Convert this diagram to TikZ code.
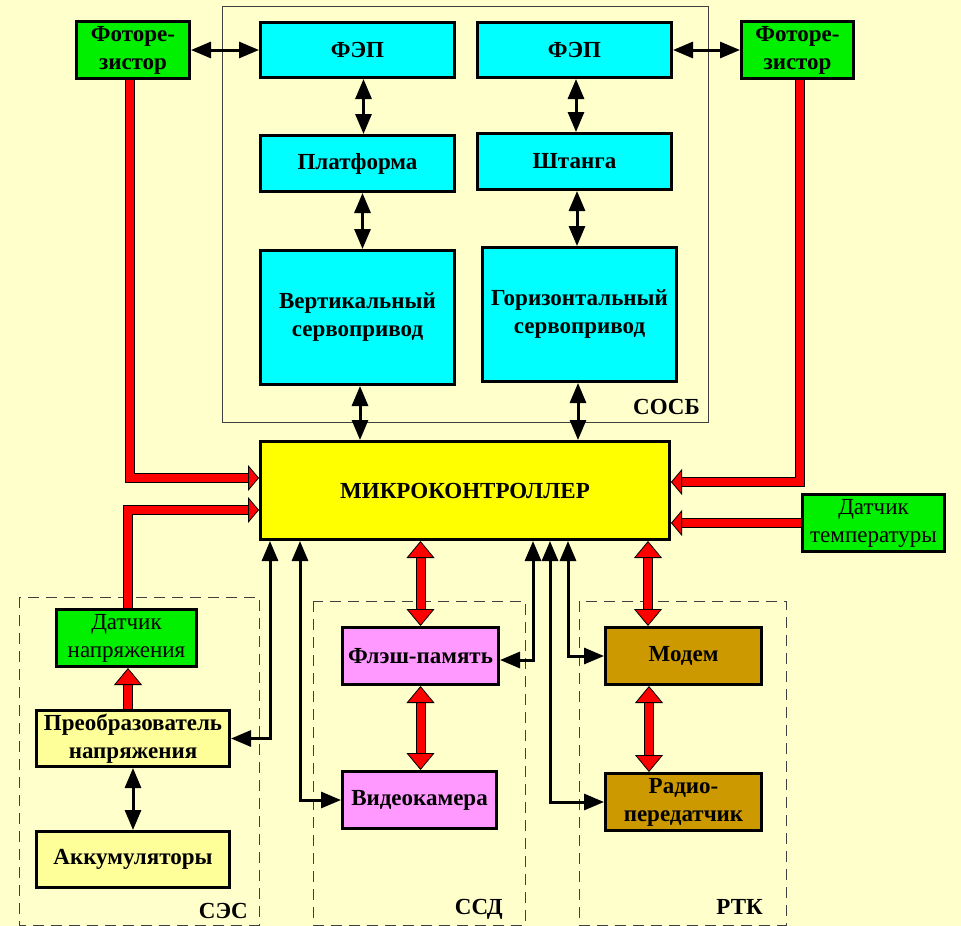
\documentclass[tikz,border=0pt]{standalone}
\usepackage{fontspec}
\setmainfont{Liberation Serif}
\usetikzlibrary{arrows.meta, calc}

\definecolor{paper}{HTML}{FFFFCC}
\definecolor{solar}{HTML}{00FFFF}
\definecolor{sensor}{HTML}{00F000}
\definecolor{mcu}{HTML}{FFFF00}
\definecolor{power}{HTML}{FFFF99}
\definecolor{store}{HTML}{FF99FF}
\definecolor{radio}{HTML}{CC9900}
\definecolor{frame}{HTML}{404040}

\begin{document}
\begin{tikzpicture}[x=1pt, y=-1pt]
  \tikzset{
    box/.style={draw=black, line width=3pt, align=center, inner sep=0pt,
      font=\fontsize{23}{28}\selectfont\bfseries},
    light/.style={font=\fontsize{23}{28}\selectfont\mdseries},
    lbl/.style={font=\fontsize{23}{28}\selectfont\bfseries, inner sep=0pt},
    group/.style={draw=frame, line width=1pt},
    subgroup/.style={draw=frame, line width=1pt, dash pattern=on 11pt off 7pt},
    blk/.style={line width=3pt,
      {Triangle[length=20pt,width=16pt]}-{Triangle[length=20pt,width=16pt]}},
    redL/.style={draw=red, line width=7.5pt,
      -{Triangle[length=11pt,width=26pt,fill=red,color=black,line width=0.8pt]},
      preaction={draw=black, line width=9.5pt, -, shorten >=10pt}},
    redup/.style={draw=red, line width=8pt,
      -{Triangle[length=17pt,width=28pt,fill=red,color=black,line width=0.8pt]},
      preaction={draw=black, line width=10pt, -, shorten >=16pt}},
    redboth/.style={draw=red, line width=8pt,
      {Triangle[length=17pt,width=28pt,fill=red,color=black,line width=0.8pt]}-%
      {Triangle[length=17pt,width=28pt,fill=red,color=black,line width=0.8pt]},
      preaction={draw=black, line width=10pt, -, shorten >=16pt, shorten <=16pt}}
  }

  % background and outer frame of the picture
  \useasboundingbox (0,0) rectangle (961,926);
  \fill[paper] (0,0) rectangle (961,926);

  % subsystem frames
  \draw[group] (222,6) rectangle (708,422);
  \draw[subgroup] (19,597) rectangle (259,925);
  \draw[subgroup] (313,601) rectangle (525,925);
  \draw[subgroup] (579,601) rectangle (786,925);

  \node[lbl, anchor=east] (sosbName) at (700,407) {СОСБ};
  \node[lbl, anchor=east] (sesName) at (248,911) {СЭС};
  \node[lbl, anchor=east] (ssdName) at (503,909) {ССД};
  \node[lbl, anchor=east] (rtkName) at (763,907) {РТК};

  % tracking system
  \node[box, fill=sensor, minimum width=113pt, minimum height=57pt] (photoL) at (133,50) {Фоторе-\\зистор};
  \node[box, fill=solar, minimum width=194pt, minimum height=55pt] (fepL) at (357.5,50) {ФЭП};
  \node[box, fill=solar, minimum width=194pt, minimum height=55pt] (fepR) at (574.5,50) {ФЭП};
  \node[box, fill=sensor, minimum width=112pt, minimum height=57pt] (photoR) at (797.5,50) {Фоторе-\\зистор};
  \node[box, fill=solar, minimum width=194pt, minimum height=56pt] (platform) at (357.5,163.5) {Платформа};
  \node[box, fill=solar, minimum width=194pt, minimum height=56pt] (boom) at (574.5,161.5) {Штанга};
  \node[box, fill=solar, minimum width=194pt, minimum height=134pt] (vservo) at (357.5,317.5) {Вертикальный\\сервопривод};
  \node[box, fill=solar, minimum width=194pt, minimum height=134pt] (hservo) at (579.5,314.5) {Горизонтальный\\сервопривод};

  % controller and sensors
  \node[box, fill=mcu, minimum width=409pt, minimum height=98pt] (mc) at (465,490.5) {МИКРОКОНТРОЛЛЕР};
  \node[box, light, fill=sensor, minimum width=142pt, minimum height=57pt] (tsens) at (873.5,523) {Датчик\\температуры};

  % power system
  \node[box, light, fill=sensor, minimum width=140pt, minimum height=57pt] (vsens) at (126.5,638) {Датчик\\напряжения};
  \node[box, fill=power, minimum width=193pt, minimum height=56pt] (conv) at (133,738.5) {Преобразователь\\напряжения};
  \node[box, fill=power, minimum width=193pt, minimum height=56pt] (accum) at (133,859.5) {Аккумуляторы};

  % data storage
  \node[box, fill=store, minimum width=156pt, minimum height=57pt] (flash) at (420.5,656) {Флэш-память};
  \node[box, fill=store, minimum width=154pt, minimum height=57pt] (cam) at (419.5,800) {Видеокамера};

  % radio link
  \node[box, fill=radio, minimum width=156pt, minimum height=57pt] (modem) at (683.5,656) {Модем};
  \node[box, fill=radio, minimum width=156pt, minimum height=57pt] (tx) at (683.5,802) {Радио-\\передатчик};

  % black control links
  \draw[blk] (photoL.east) -- (fepL.west);
  \draw[blk] (fepR.east) -- (photoR.west);
  \draw[blk] ([xshift=6pt]fepL.south) -- ([xshift=6pt]platform.north);
  \draw[blk] ([xshift=5pt]platform.south) -- ([xshift=5pt]vservo.north);
  \draw[blk] ([xshift=1.5pt]fepR.south) -- ([xshift=1.5pt]boom.north);
  \draw[blk] ([xshift=2.5pt]boom.south) -- ([xshift=-2.5pt]hservo.north);
  \draw[blk] ([xshift=2.5pt]vservo.south) -- ([xshift=-105pt]mc.north);
  \draw[blk] ([xshift=-1.5pt]hservo.south) -- ([xshift=113pt]mc.north);
  \draw[blk] ([xshift=-195pt]mc.south) |- (conv.east);
  \draw[blk] ([xshift=-165pt]mc.south) |- (cam.west);
  \draw[blk] ([xshift=68pt]mc.south) |- ([yshift=-4pt]flash.east);
  \draw[blk] ([xshift=85pt]mc.south) |- (tx.west);
  \draw[blk] ([xshift=103pt]mc.south) |- (modem.west);
  \draw[blk] (conv.south) -- (accum.north);

  % red signal links
  \draw[redL] ([xshift=-3pt]photoL.south) |- ([yshift=12.5pt]mc.west);
  \draw[redL] ([xshift=1.5pt]vsens.north) |- ([yshift=-19.5pt]mc.west);
  \draw[redL] ([xshift=2.5pt]photoR.south) |- ([yshift=8.5pt]mc.east);
  \draw[redL] (tsens.west) -- (tsens.west -| mc.east);
  \draw[redup] ([xshift=-5pt]conv.north) -- ([xshift=1.5pt]vsens.south);
  \draw[redboth] (flash.north |- mc.south) -- (flash.north);
  \draw[redboth] (flash.south) -- (flash.south |- cam.north);
  \draw[redboth] ([xshift=-35.5pt]modem.north |- mc.south) -- ([xshift=-35.5pt]modem.north);
  \draw[redboth] ([xshift=-34.5pt]modem.south) -- ([xshift=-34.5pt]tx.north);
\end{tikzpicture}
\end{document}
